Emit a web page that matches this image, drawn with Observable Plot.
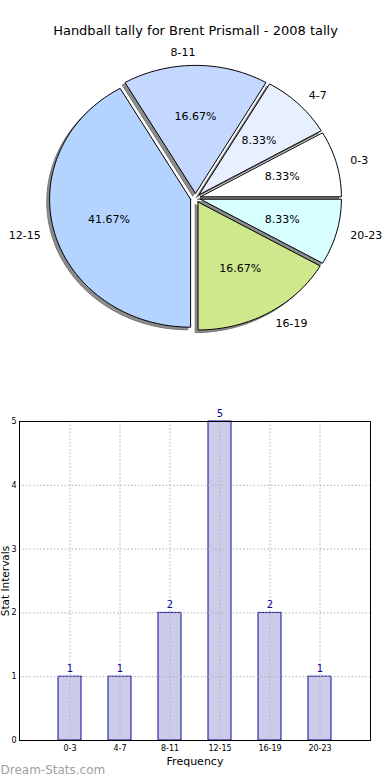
<!DOCTYPE html>
<html>
<head>
<meta charset="utf-8">
<script src="https://cdn.jsdelivr.net/npm/d3@7"></script>
<script src="https://cdn.jsdelivr.net/npm/@observablehq/plot@0.6"></script>
<style>
  html, body { margin: 0; padding: 0; background: #fff; }
  #chart { width: 390px; font-family: "DejaVu Sans", sans-serif; }
  #chart svg { display: block; }
</style>
</head>
<body>
<div id="chart"></div>
<script>
const title = "Handball tally for Brent Prismall - 2008 tally";
const categories = ["0-3", "4-7", "8-11", "12-15", "16-19", "20-23"];
const counts = [1, 1, 2, 5, 2, 1];
const sliceColors = ["#ffffff", "#e8f0ff", "#c4d8ff", "#b4d4ff", "#d0e88c", "#d8ffff"];
const yTicks = [0, 1, 2, 3, 4, 5];
const xLabel = "Frequency";
const yLabel = "Stat Intervals";
const watermark = "Dream-Stats.com";

const explode = 0.036;
const shadowOffset = 0.02;
const total = d3.sum(counts);
const cum = [0, ...d3.cumsum(counts)];

const slices = categories.map((c, i) => {
  const a1 = 2 * Math.PI * cum[i] / total;
  const a2 = 2 * Math.PI * cum[i + 1] / total;
  const mid = (a1 + a2) / 2;
  const ox = explode * Math.cos(mid), oy = explode * Math.sin(mid);
  const n = Math.max(8, Math.ceil((a2 - a1) / (2 * Math.PI) * 240));
  const pts = [{slice: c, x: ox, y: oy}];
  for (let k = 0; k <= n; ++k) {
    const t = a1 + (a2 - a1) * k / n;
    pts.push({slice: c, x: ox + Math.cos(t), y: oy + Math.sin(t)});
  }
  pts.push({slice: c, x: ox, y: oy});
  return {
    name: c, color: sliceColors[i], pts, mid, ox, oy,
    pct: (100 * counts[i] / total).toFixed(2) + "%"
  };
});

const pieMarks = [];
// shadows
for (const s of slices) {
  pieMarks.push(Plot.line(s.pts, {
    x: d => d.x - shadowOffset, y: d => d.y - shadowOffset,
    fill: "#8c8c8c", stroke: "#777", strokeWidth: 1
  }));
}
for (const s of slices) {
  pieMarks.push(Plot.line(s.pts, {
    x: "x", y: "y", fill: s.color, stroke: "black", strokeWidth: 1, strokeLinejoin: "miter"
  }));
}
// category labels (left-aligned on the right side, right-aligned on the left side)
const rightSide = slices.filter(s => Math.cos(s.mid) > 1e-9);
const leftSide = slices.filter(s => !(Math.cos(s.mid) > 1e-9));
pieMarks.push(Plot.text(rightSide, {
  x: s => s.ox + 1.1 * Math.cos(s.mid),
  y: s => s.oy + 1.1 * Math.sin(s.mid),
  text: "name", textAnchor: "start",
  fontSize: 11, fill: "black", lineAnchor: "middle"
}));
pieMarks.push(Plot.text(leftSide, {
  x: s => s.ox + 1.1 * Math.cos(s.mid),
  y: s => s.oy + 1.1 * Math.sin(s.mid),
  text: "name", textAnchor: "end",
  fontSize: 11, fill: "black", lineAnchor: "middle"
}));
// percentage labels
pieMarks.push(Plot.text(slices, {
  x: s => s.ox + 0.6 * Math.cos(s.mid),
  y: s => s.oy + 0.6 * Math.sin(s.mid),
  text: "pct", textAnchor: "middle",
  fontSize: 11, fill: "black", lineAnchor: "middle"
}));
pieMarks.push(Plot.text([title], {
  frameAnchor: "top", lineAnchor: "middle", dy: 30, fontSize: 13, fill: "black"
}));

const pie = Plot.plot({
  width: 390, height: 390,
  marginTop: 0, marginBottom: 0, marginLeft: 0, marginRight: 0,
  style: {fontFamily: "DejaVu Sans, sans-serif", background: "white"},
  x: {type: "linear", domain: [-1, 1], range: [54, 336], axis: null},
  y: {type: "linear", domain: [-1, 1], range: [325.5, 69.5], axis: null},
  marks: pieMarks
});

const bars = categories.map((c, i) => ({cat: c, value: counts[i]}));

const bar = Plot.plot({
  width: 390, height: 390,
  marginTop: 31, marginBottom: 40, marginLeft: 19, marginRight: 20,
  style: {fontFamily: "DejaVu Sans, sans-serif", background: "white", overflow: "visible"},
  x: {type: "band", domain: categories, paddingInner: 0.54, paddingOuter: 0.77, label: null},
  y: {domain: [0, 5], label: null},
  marks: [
    Plot.barY(bars, {x: "cat", y: "value", fill: "#ccccea", stroke: "#0a0a96", strokeWidth: 1}),
    Plot.gridY([1, 2, 3, 4], {stroke: "#b0b0b0", strokeOpacity: 1, strokeDasharray: "1.5,2"}),
    Plot.gridX(categories, {stroke: "#b0b0b0", strokeOpacity: 1, strokeDasharray: "1.5,2"}),
    Plot.text(bars, {x: "cat", y: "value", text: d => String(d.value), dy: -8, fill: "#0a0a96", fontSize: 10}),
    Plot.frame({stroke: "black", strokeWidth: 1}),
    Plot.axisY({ticks: yTicks, tickFormat: d3.format("d"), tickSize: 0, tickPadding: 3, fontSize: 8, label: null}),
    Plot.axisX({tickSize: 0, tickPadding: 5, fontSize: 8, label: null}),
    Plot.text([xLabel], {frameAnchor: "bottom", lineAnchor: "middle", dy: 21, fontSize: 11, fill: "black"}),
    Plot.text([yLabel], {frameAnchor: "left", rotate: -90, dx: -14, textAnchor: "middle", lineAnchor: "middle", fontSize: 10.5, fill: "black"}),
    Plot.text([watermark], {frameAnchor: "bottom-left", textAnchor: "start", lineAnchor: "middle", dx: -19, dy: 30, fontSize: 12, fill: "#a0a0a0"})
  ]
});

const root = document.getElementById("chart");
root.appendChild(pie);
root.appendChild(bar);
</script>
</body>
</html>
